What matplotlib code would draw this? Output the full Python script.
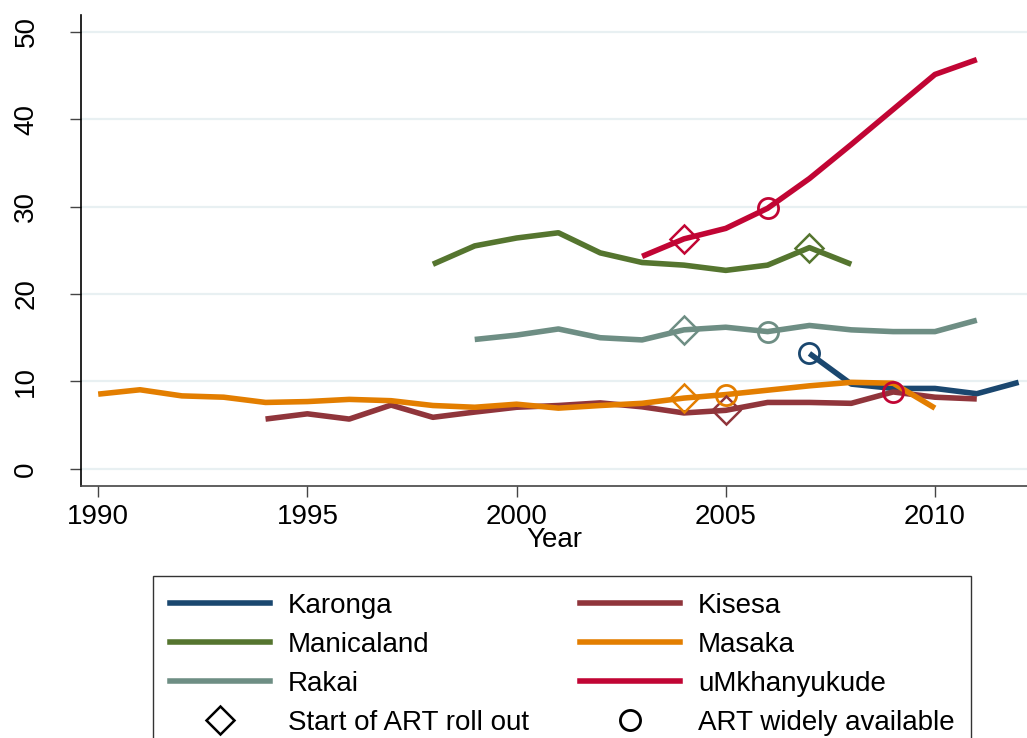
import matplotlib
matplotlib.use("Agg")
import matplotlib.pyplot as plt
from matplotlib.lines import Line2D

plt.rcParams['font.family'] = ['Liberation Sans', 'DejaVu Sans']

# site data
karonga_years = [2007, 2008, 2009, 2010, 2011, 2012]
karonga = [13.2, 9.7, 9.2, 9.2, 8.6, 9.9]

kisesa_years = list(range(1994, 2012))
kisesa = [5.7, 6.3, 5.7, 7.3, 5.9, 6.5, 7.05, 7.25, 7.55, 7.1, 6.4, 6.7, 7.6, 7.6, 7.5, 8.8, 8.2, 8.0]

manicaland_years = list(range(1998, 2009))
manicaland = [23.4, 25.5, 26.4, 27.0, 24.7, 23.6, 23.3, 22.7, 23.3, 25.3, 23.4]

masaka_years = list(range(1990, 2011))
masaka = [8.55, 9.05, 8.35, 8.2, 7.6, 7.7, 7.95, 7.8, 7.25, 7.05, 7.4, 6.95, 7.25, 7.5,
          8.1, 8.5, 9.0, 9.5, 9.9, 9.8, 6.95]

rakai_years = list(range(1999, 2012))
rakai = [14.8, 15.3, 16.0, 15.0, 14.75, 15.9, 16.2, 15.7, 16.4, 15.9, 15.7, 15.7, 17.0]

umk_years = list(range(2003, 2012))
umk = [24.3, 26.3, 27.5, 29.8, 33.2, 37.1, 41.1, 45.1, 46.8]

site_names = ["Karonga", "Kisesa", "Manicaland", "Masaka", "Rakai", "uMkhanyukude"]
site_years = [karonga_years, kisesa_years, manicaland_years, masaka_years, rakai_years, umk_years]
site_values = [karonga, kisesa, manicaland, masaka, rakai, umk]
colors = ["#1a476f", "#90353b", "#55752f", "#e37e00", "#6e8e84", "#c10534"]

# start of ART roll out (diamond) and ART widely available (circle): (site, year)
art_start = [("uMkhanyukude", 2004), ("Manicaland", 2007), ("Rakai", 2004),
             ("Masaka", 2004), ("Kisesa", 2005)]
art_wide = [("uMkhanyukude", 2006), ("Rakai", 2006), ("Karonga", 2007),
            ("Masaka", 2005), ("Kisesa", 2009)]
# the Kisesa circle is drawn in the uMkhanyukude colour in the original
art_wide_color = {"Kisesa": "#c10534"}

fig = plt.figure(figsize=(10.27, 7.38), dpi=100)
ax = fig.add_axes([0.0789, 0.3415, 0.9211, 0.6382])

for y in [0, 10, 20, 30, 40, 50]:
    ax.axhline(y, color="#e8f0f2", lw=1.6, zorder=0)

lw = 4.0
for name, yrs, vals, c in zip(site_names, site_years, site_values, colors):
    ax.plot(yrs, vals, color=c, lw=lw, solid_capstyle="butt", zorder=2)


def value_at(name, year):
    i = site_names.index(name)
    return site_values[i][site_years[i].index(year)]


for name, yr in art_start:
    c = colors[site_names.index(name)]
    ax.plot(yr, value_at(name, yr), marker="D", ms=14, mfc="none", mec=c, mew=1.8, zorder=3)

for name, yr in art_wide:
    c = art_wide_color.get(name, colors[site_names.index(name)])
    ax.plot(yr, value_at(name, yr), marker="o", ms=14.5, mfc="none", mec=c, mew=2.0, zorder=3)

ax.set_xlim(1989.59, 2012.2)
ax.set_ylim(-1.95, 51.9)
ax.set_xticks([1990, 1995, 2000, 2005, 2010])
ax.set_yticks([0, 10, 20, 30, 40, 50])
ax.tick_params(axis="both", direction="out", length=8, width=1, color="#444444", labelsize=20)
ax.tick_params(axis="y", pad=22)
ax.tick_params(axis="x", pad=5)
for lab in ax.get_yticklabels():
    lab.set_rotation(90)
    lab.set_va("center")
ax.spines["top"].set_visible(False)
ax.spines["right"].set_visible(False)
ax.spines["left"].set_linewidth(1.2)
ax.spines["bottom"].set_linewidth(1.2)
ax.spines["bottom"].set_color("#444444")
ax.set_xlabel("Year", fontsize=20, labelpad=-2)

line_handles = {name: Line2D([], [], color=c, lw=lw) for name, c in zip(site_names, colors)}
start_handle = Line2D([], [], ls="none", marker="D", ms=14, mfc="none", mec="black", mew=1.8)
wide_handle = Line2D([], [], ls="none", marker="o", ms=14.5, mfc="none", mec="black", mew=2.0)

# legend is filled row by row in the original; matplotlib fills by column
col1 = ["Karonga", "Manicaland", "Rakai"]
col2 = ["Kisesa", "Masaka", "uMkhanyukude"]
handles = [line_handles[n] for n in col1] + [start_handle] + [line_handles[n] for n in col2] + [wide_handle]
labels = col1 + ["Start of ART roll out"] + col2 + ["ART widely available"]

leg = fig.legend(handles, labels, ncol=2, loc="upper left",
                 bbox_to_anchor=(153 / 1027, 1 - 576 / 738), fontsize=20,
                 frameon=True, fancybox=False, edgecolor="black",
                 handlelength=3.6, handletextpad=0.65, columnspacing=1.85,
                 labelspacing=0.47, borderpad=0.6, borderaxespad=0)
leg.get_frame().set_linewidth(1.0)

fig.savefig("out.png", dpi=100)
